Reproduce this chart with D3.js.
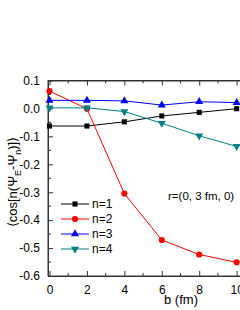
<!DOCTYPE html>
<html>
<head>
<meta charset="utf-8">
<script src="https://cdn.jsdelivr.net/npm/d3@7"></script>
<style>
  body { margin: 0; background: #fff; }
  svg { display: block; font-family: "Liberation Sans", Arial, sans-serif; }
</style>
</head>
<body>
<svg id="chart" width="240" height="310"></svg>
<script>
// data
var bValues = [0, 2, 4, 6, 8, 10]
var n1 = [-0.063, -0.063, -0.048, -0.027, -0.014, -0.001]
var n2 = [0.062, -0.001, -0.305, -0.471, -0.523, -0.551]
var n3 = [0.029, 0.029, 0.027, 0.012, 0.024, 0.021]
var n4 = [0.002, 0.002, -0.011, -0.053, -0.098, -0.136]
var seriesNames = ["n=1", "n=2", "n=3", "n=4"]
var xTicks = [0, 2, 4, 6, 8, 10]
var yTicks = [0.1, 0.0, -0.1, -0.2, -0.3, -0.4, -0.5, -0.6]

var series = [
  { name: seriesNames[0], values: n1, color: "#000000", symbol: d3.symbolSquare, size: 26, rot: 0 },
  { name: seriesNames[1], values: n2, color: "#ff0000", symbol: d3.symbolCircle, size: 30, rot: 0 },
  { name: seriesNames[2], values: n3, color: "#0000ff", symbol: d3.symbolTriangle, size: 28, rot: 0 },
  { name: seriesNames[3], values: n4, color: "#008080", symbol: d3.symbolTriangle, size: 28, rot: 180 }
]

var svg = d3.select("#chart")
var plotL = 48, plotR = 246, plotT = 80.5, plotB = 276

var x = d3.scaleLinear().domain([-0.08, 10.5]).range([plotL, plotR])
var y = d3.scaleLinear().domain([-0.6, 0.1]).range([plotB, plotT])

var axisColor = "#333"

// frame
svg.append("rect")
  .attr("x", plotL).attr("y", plotT)
  .attr("width", plotR - plotL).attr("height", plotB - plotT)
  .attr("fill", "none").attr("stroke", axisColor).attr("stroke-width", 1)

var xMinor = d3.range(1, 11, 2)
var yMinor = d3.range(-0.55, 0.1, 0.1)

// bottom axis, ticks inward
var gx = svg.append("g").attr("transform", "translate(0," + plotB + ")")
gx.call(d3.axisBottom(x).tickValues(xTicks).tickSizeInner(-5).tickSizeOuter(0).tickPadding(9).tickFormat(d3.format("d")))
gx.append("g").selectAll("line").data(xMinor).enter().append("line")
  .attr("x1", x).attr("x2", x).attr("y1", 0).attr("y2", -3)
// top axis, ticks inward
var gxt = svg.append("g").attr("transform", "translate(0," + plotT + ")")
gxt.call(d3.axisTop(x).tickValues(xTicks).tickSizeInner(-5).tickSizeOuter(0).tickFormat(""))
gxt.append("g").selectAll("line").data(xMinor).enter().append("line")
  .attr("x1", x).attr("x2", x).attr("y1", 0).attr("y2", 3)

// left axis
var gy = svg.append("g").attr("transform", "translate(" + plotL + ",0)")
gy.call(d3.axisLeft(y).tickValues(yTicks).tickSizeInner(-5).tickSizeOuter(0).tickPadding(8))
gy.append("g").selectAll("line").data(yMinor).enter().append("line")
  .attr("y1", y).attr("y2", y).attr("x1", 0).attr("x2", 3)

svg.selectAll(".domain").attr("stroke", axisColor)
svg.selectAll("g line").attr("stroke", axisColor)
svg.selectAll(".tick text").attr("font-size", 12).attr("fill", "#000")
  .attr("font-family", "'Liberation Sans', Arial, sans-serif")
gy.selectAll(".tick text").text(function(d) { return d3.format(".1f")(d).replace("\u2212", "-") })

// lines and markers
var line = d3.line().x(function(d) { return x(d[0]) }).y(function(d) { return y(d[1]) })

series.forEach(function(s) {
  var pts = bValues.map(function(b, i) { return [b, s.values[i]] })
  svg.append("path").datum(pts)
    .attr("d", line).attr("fill", "none")
    .attr("stroke", s.color).attr("stroke-width", 1)
  svg.append("g").selectAll("path").data(pts).enter().append("path")
    .attr("d", d3.symbol().type(s.symbol).size(s.size))
    .attr("transform", function(d) { return "translate(" + x(d[0]) + "," + y(d[1]) + ") rotate(" + s.rot + ")" })
    .attr("fill", s.color)
})

// legend
var legend = svg.append("g")
series.forEach(function(s, i) {
  var ly = 204 + i * 15
  legend.append("line").attr("x1", 61).attr("x2", 89).attr("y1", ly).attr("y2", ly)
    .attr("stroke", s.color).attr("stroke-width", 1)
  legend.append("path")
    .attr("d", d3.symbol().type(s.symbol).size(s.size))
    .attr("transform", "translate(75," + ly + ") rotate(" + s.rot + ")")
    .attr("fill", s.color)
  legend.append("text").attr("x", 92).attr("y", ly + 4)
    .attr("font-size", 12).text(s.name)
})

// annotation
svg.append("text").attr("x", 168).attr("y", 200).attr("font-size", 11.5).text("r=(0, 3 fm, 0)")

// axis titles
svg.append("text").attr("x", 181).attr("y", 304).attr("text-anchor", "middle")
  .attr("font-size", 13).text("b (fm)")

var yl = svg.append("text")
  .attr("transform", "translate(17,182) rotate(-90)")
  .attr("text-anchor", "middle").attr("font-size", 13)
yl.append("tspan").text("\u27E8cos[n(\u03A8")
yl.append("tspan").attr("font-size", 9).attr("dy", 4).text("E")
yl.append("tspan").attr("dy", -4).text("-\u03A8")
yl.append("tspan").attr("font-size", 9).attr("dy", 4).text("n")
yl.append("tspan").attr("dy", -4).text(")]\u27E9")
</script>
</body>
</html>
